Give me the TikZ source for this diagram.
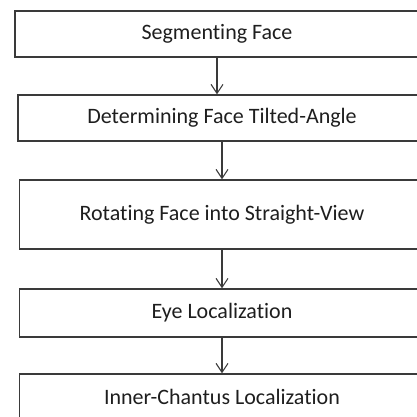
\documentclass[tikz,border=0pt]{standalone}
\usepackage{fontspec}
\setmainfont[Ligatures={NoCommon}]{Carlito}
\usetikzlibrary{arrows.meta}
\definecolor{edge}{HTML}{3A3A3A}
\definecolor{txt}{HTML}{1E1E1E}
\tikzset{
  stepbox/.style={draw=edge, line width=1.3pt, rectangle, inner sep=0pt,
    font=\fontsize{22}{24}\selectfont, text=txt, anchor=center},
  flow/.style={draw=edge, line width=1.1pt, -{Straight Barb[length=9pt,width=12pt,line width=1.1pt]}}
}
\begin{document}
\begin{tikzpicture}[x=1pt,y=-1pt]
\useasboundingbox (0,0) rectangle (417,416);
\clip (0,0) rectangle (417,416);
\node[stepbox, minimum width=404pt, minimum height=46pt] (b1) at (217,34) {Segmenting Face};
\node[stepbox, minimum width=408pt, minimum height=46pt] (b2) at (222,118) {Determining Face Tilted-Angle};
\node[stepbox, minimum width=405pt, minimum height=69pt] (b3) at (222,214.5) {Rotating Face into Straight-View};
\node[stepbox, minimum width=405pt, minimum height=48pt] (b4) at (222,313) {Eye Localization};
\node[stepbox, minimum width=405pt, minimum height=46pt] (b5) at (222,397) {Inner-Chantus Localization};
\draw[flow] (b1.south) -- (b1.south |- b2.north);
\draw[flow] (b2.south) -- (b3.north);
\draw[flow] (b3.south) -- (b4.north);
\draw[flow] (b4.south) -- (b5.north);
\end{tikzpicture}
\end{document}
